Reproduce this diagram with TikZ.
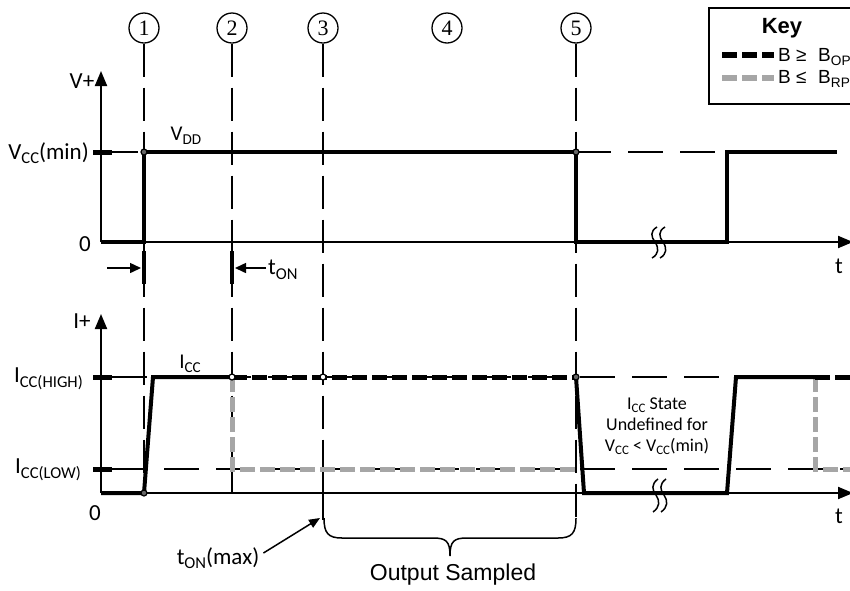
\documentclass[tikz,border=0pt]{standalone}
\usepackage{fontspec}
\setmainfont{Carlito}
\newfontfamily\arialf{Liberation Sans}
\newfontfamily\timesf{Liberation Serif}
\usetikzlibrary{arrows.meta}
\newcommand\subx[1]{\raisebox{-0.2em}{\scalebox{0.72}{#1}}}
\begin{document}
\begin{tikzpicture}[x=1pt,y=-1pt,
  lbl/.style={inner sep=0pt, font=\fontsize{23}{26}\selectfont},
  small/.style={inner sep=0pt, align=center, font=\fontsize{18}{21}\selectfont},
  num/.style={draw, circle, line width=1.3pt, minimum size=30pt, inner sep=0pt, font=\timesf\fontsize{22}{22}\selectfont},
  vguide/.style={line width=1.5pt, dash pattern=on 33pt off 11pt},
  hguide/.style={line width=1.3pt, dash pattern=on 35pt off 17pt},
  axis/.style={line width=2pt, -{Triangle[length=15pt,width=12pt]}},
  sig/.style={line width=4pt, line join=miter},
  hiB/.style={line width=5pt, dash pattern=on 15pt off 5pt},
  loB/.style={line width=5pt, dash pattern=on 15pt off 5pt, color=keygray},
  tick/.style={line width=5pt},
  dot/.style={circle, draw, line width=1.2pt, fill=black!60, inner sep=0pt, minimum size=6pt},
  odot/.style={circle, draw, line width=1.2pt, fill=white, inner sep=0pt, minimum size=6pt},
  brk/.style={line width=1.5pt}
]
\definecolor{keygray}{HTML}{A6A6A6}
\useasboundingbox (0,0) rectangle (850,590);
\fill[white] (0,0) rectangle (850,590);
\clip (0,0) rectangle (850,590);

% ---- circles with numbers
\node[num] (c1) at (144,28) {1};
\node[num] (c2) at (232,28) {2};
\node[num] (c3) at (323,28) {3};
\node[num] (c4) at (447,28) {4};
\node[num] (c5) at (576,28) {5};
\coordinate (e1) at (144,493);
\coordinate (e2) at (232,493);
\coordinate (e3) at (323,520);
\coordinate (e5) at (576,522);
\draw[vguide] (c1.south) -- (e1);
\draw[vguide] (c2.south) -- (e2);
\draw[vguide] (c3.south) -- (e3);
\draw[vguide] (c5.south) -- (e5);
\draw[line width=1.5pt] (232,469) -- (232,493);
\draw[line width=1.5pt] (323,469) -- (323,520);

% ---- top graph
\coordinate (o1) at (101,242);
\coordinate (yt1) at (101,71);
\coordinate (xt1) at (853,242);
\draw[axis] (o1) -- (yt1);
\draw[axis] (o1) -- (xt1);
\node[lbl] (vplus) at (82,81) {V+};
\node[lbl, anchor=east] (vccmin) at (89,153) {V\subx{CC}(min)};
\node[lbl] (zero1) at (85,244) {0};
\node[lbl] (t1) at (839,266) {t};
\node[lbl, font=\fontsize{21}{23}\selectfont] (vdd) at (186,136) {V\subx{DD}};
\draw[tick] (93,152) -- (112,152);
\draw[line width=1.3pt] (112,152) -- (138,152);
\draw[hguide] (576,152) -- (727,152);
\draw[sig] (101,242) -- (144,242) -- (144,152) -- (576,152) -- (576,242) -- (727,242) -- (727,152) -- (837,152);
\node[dot] (d1) at (144,152) {};
\node[dot] (d2) at (576,152) {};
% break top
\draw[brk] (657,227) .. controls (650,231) and (651,237) .. (655,242) .. controls (659,248) and (659,254) .. (652,258);
\draw[brk] (665,227) .. controls (658,231) and (659,237) .. (663,242) .. controls (667,248) and (667,254) .. (660,258);

% tON arrows
\draw[line width=4pt] (144,251) -- (144,284);
\draw[line width=4pt] (232,251) -- (232,284);
\coordinate (a1s) at (107,268);
\coordinate (a1e) at (141,268);
\coordinate (a2s) at (266,268);
\coordinate (a2e) at (235,268);
\draw[line width=1.5pt, -{Triangle[length=11pt,width=10pt]}] (a1s) -- (a1e);
\draw[line width=1.5pt, -{Triangle[length=11pt,width=10pt]}] (a2s) -- (a2e);
\node[lbl, anchor=west] (ton) at (268,270) {t\subx{ON}};

% ---- bottom graph
\coordinate (o2) at (101,493);
\coordinate (yt2) at (101,314);
\coordinate (xt2) at (853,493);
\draw[axis] (o2) -- (yt2);
\draw[axis] (o2) -- (xt2);
\node[lbl] (iplus) at (82,321) {I+};
\node[lbl, anchor=east] (icch) at (83,379) {I\subx{CC(HIGH)}};
\node[lbl, anchor=east] (iccl) at (81,470) {I\subx{CC(LOW)}};
\node[lbl] (zero2) at (95,513) {0};
\node[lbl] (t2) at (839,516) {t};
\node[lbl, font=\fontsize{21}{23}\selectfont] (icc) at (190,364) {I\subx{CC}};
\draw[tick] (93,377) -- (112,377);
\draw[tick] (93,469) -- (112,469);
\draw[hguide] (112,377) -- (850,377);
\draw[hguide] (112,469) -- (850,469);
% gray low state
\draw[loB] (232,377) -- (232,469) -- (576,469);
\draw[loB] (815,377) -- (815,469) -- (852,469);
% black high state
\draw[hiB] (232,377) -- (576,377);
\draw[hiB] (815,377) -- (852,377);
\draw[sig] (101,493) -- (144,493) -- (153,377) -- (232,377);
\draw[sig] (576,377) -- (584,493) -- (727,493) -- (736,377) -- (816,377);
\node[dot] (d3) at (144,493) {};
\node[odot] (d4) at (232,377) {};
\node[odot] (d5) at (323,377) {};
\node[dot] (d6) at (576,377) {};
% break bottom
\draw[brk] (658,479) .. controls (651,484) and (652,490) .. (656,495) .. controls (660,501) and (660,507) .. (653,512);
\draw[brk] (666,479) .. controls (659,484) and (660,490) .. (664,495) .. controls (668,501) and (668,507) .. (661,512);

\node[small] (undef) at (657,426) {I\subx{CC} State\\Undefined for\\V\subx{CC} {<} V\subx{CC}(min)};

% tON(max)
\node[lbl] (tonmax) at (218,558) {t\subx{ON}(max)};
\coordinate (tmx) at (320,518);
\draw[line width=1.5pt, -{Triangle[length=11pt,width=9pt]}] (tonmax.east) ++(4,-5) -- (tmx);

% brace
\draw[line width=1.5pt] (324,518) .. controls (324,533) and (328,538) .. (342,538) -- (433,538) .. controls (446,538) and (450,541) .. (450,556) .. controls (450,541) and (454,538) .. (467,538) -- (558,538) .. controls (572,538) and (576,533) .. (576,518);
\node[lbl, font=\arialf\fontsize{23}{26}\selectfont] (outs) at (453,575) {Output Sampled};

% ---- key
\draw[line width=2pt] (709,8) rectangle (860,104);
\node[inner sep=0pt, font=\arialf\bfseries\fontsize{22}{24}\selectfont] (key) at (782,28) {Key};
\draw[line width=6pt, dash pattern=on 15pt off 5pt] (722,55) -- (774,55);
\draw[line width=6pt, dash pattern=on 15pt off 5pt, keygray] (722,78) -- (774,78);
\node[inner sep=0pt, anchor=west, font=\arialf\fontsize{19}{21}\selectfont] (kop) at (778,57) {B ≥\, \,B\subx{OP}};
\node[inner sep=0pt, anchor=west, font=\arialf\fontsize{19}{21}\selectfont] (krp) at (778,79) {B ≤\, \,B\subx{RP}};
\end{tikzpicture}
\end{document}
